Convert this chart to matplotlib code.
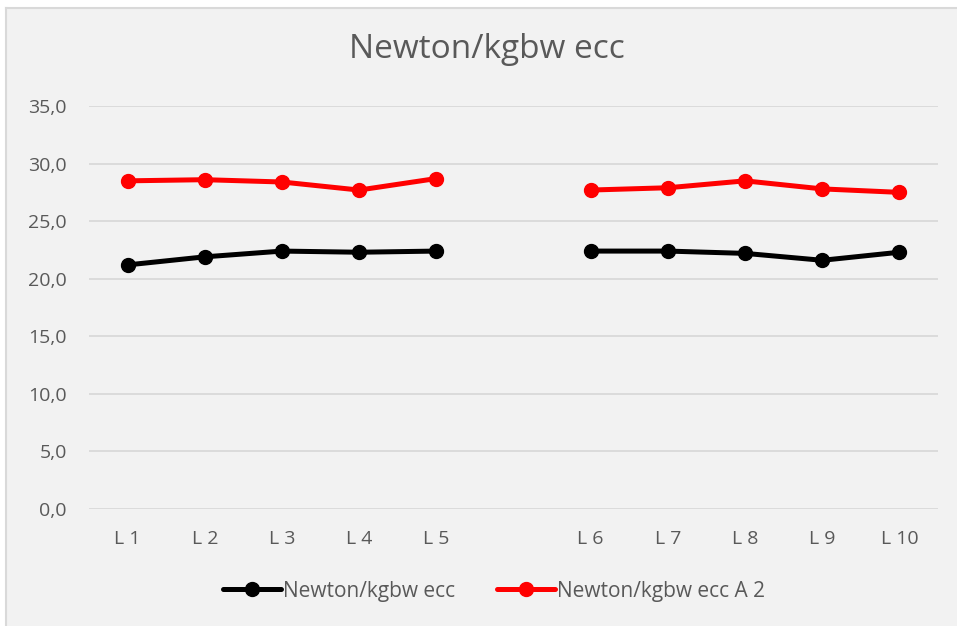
import matplotlib
matplotlib.use("Agg")
import matplotlib.pyplot as plt
import numpy as np
from matplotlib.patches import Rectangle

plt.rcParams['font.family'] = ['Open Sans', 'DejaVu Sans']

# Categories (an empty slot separates the two groups)
categories = ["L 1", "L 2", "L 3", "L 4", "L 5", "", "L 6", "L 7", "L 8", "L 9", "L 10"]
ecc = [21.2, 21.9, 22.4, 22.3, 22.4, None, 22.4, 22.4, 22.2, 21.6, 22.3]
ecc_a2 = [28.5, 28.6, 28.4, 27.7, 28.7, None, 27.7, 27.9, 28.5, 27.8, 27.5]
y_ticks = [0, 5, 10, 15, 20, 25, 30, 35]

bg = "#F2F2F2"
text_color = "#595959"
grid_color = "#D9D9D9"

W, H = 957, 626
fig = plt.figure(figsize=(W / 100, H / 100), dpi=100, facecolor="white")

# chart area panel with a thin frame on its left and top edges
panel = Rectangle((6 / W, 0), 1, (H - 8) / H, transform=fig.transFigure,
                  facecolor=bg, edgecolor="none")
panel.set_zorder(-10)
fig.add_artist(panel)
fig.add_artist(plt.Line2D([6 / W, 6 / W], [0, (H - 8) / H], transform=fig.transFigure,
                          color="#D9D9D9", lw=1.5, zorder=-5))
fig.add_artist(plt.Line2D([6 / W, 1], [(H - 8) / H, (H - 8) / H], transform=fig.transFigure,
                          color="#D9D9D9", lw=1.5, zorder=-5))

ax = fig.add_axes([89 / W, (H - 509) / H, (938 - 89) / W, (509 - 106) / H])
ax.set_zorder(2)
ax.set_facecolor(bg)

x = np.arange(len(categories))

def to_arr(vals):
    return np.array([np.nan if v is None else v for v in vals], dtype=float)

ax.plot(x, to_arr(ecc), color="black", lw=3.6, marker="o", ms=10,
        label="Newton/kgbw ecc", solid_capstyle="round")
ax.plot(x, to_arr(ecc_a2), color="#FF0000", lw=3.6, marker="o", ms=10,
        label="Newton/kgbw ecc A 2", solid_capstyle="round")

ax.set_xlim(-0.5, len(categories) - 0.5)
ax.set_ylim(0, 35)
ax.set_yticks(y_ticks)
ax.set_yticklabels([f"{v:.1f}".replace(".", ",") for v in y_ticks])
ax.set_xticks(x)
ax.set_xticklabels(categories)
ax.yaxis.grid(True, color=grid_color, lw=1.3)
ax.set_axisbelow(True)
for s in ax.spines.values():
    s.set_visible(False)
ax.tick_params(axis="both", length=0, labelsize=14, colors=text_color)
ax.tick_params(axis="y", pad=16)
ax.tick_params(axis="x", pad=15)

fig.text(487 / W, (H - 50) / H, "Newton/kgbw ecc", ha="center", va="center",
         fontsize=24, color=text_color)

leg = fig.legend(loc="center", bbox_to_anchor=(494 / W, (H - 591) / H), ncol=2,
                 frameon=False, fontsize=15, handlelength=2.8, handletextpad=0.1,
                 columnspacing=2.0, labelcolor=text_color)

fig.savefig("out.png", dpi=100, facecolor="white")
